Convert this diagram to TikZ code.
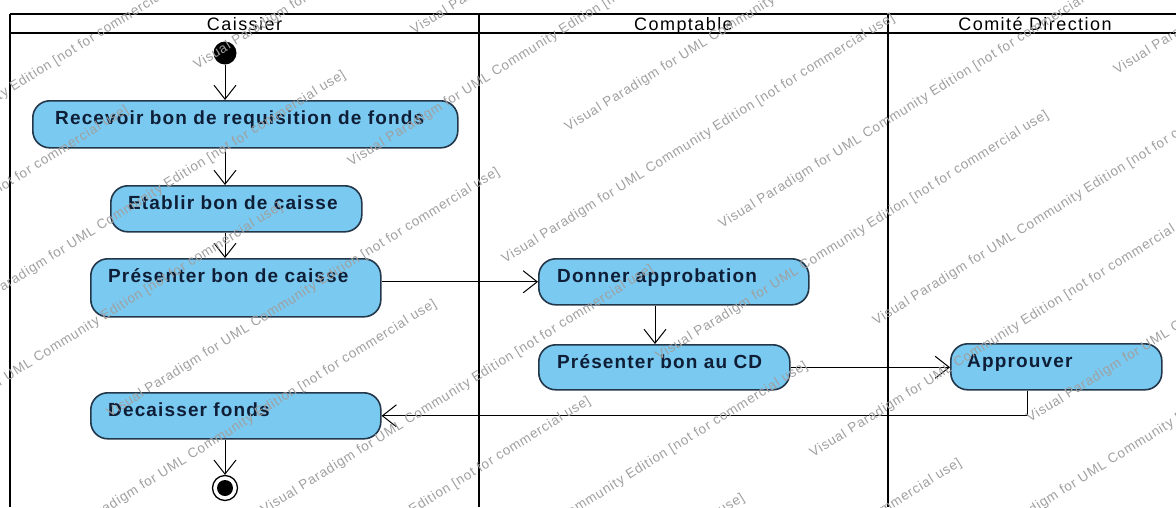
\documentclass[tikz,border=0pt]{standalone}
\usepackage{fontspec}
\setmainfont{Liberation Sans}
\newfontfamily\actfont[LetterSpace=6]{Liberation Sans}
\newfontfamily\lanefont[LetterSpace=8]{Liberation Sans}
\newfontfamily\wmfont[LetterSpace=6]{Liberation Sans}
\usetikzlibrary{arrows.meta,calc}

\definecolor{actfill}{RGB}{122,201,240}
\definecolor{actdraw}{RGB}{35,55,75}
\definecolor{acttext}{RGB}{15,30,55}
\definecolor{wmgray}{RGB}{160,160,160}

\begin{document}
\begin{tikzpicture}[x=1pt,y=-1pt,
  act/.style={draw=actdraw, fill=actfill, line width=1.6pt, rounded corners=17pt,
    inner sep=0pt, anchor=north west},
  actlabel/.style={anchor=base west, inner sep=0pt, text=acttext,
    font=\actfont\bfseries\fontsize{19}{22}\selectfont},
  lanetitle/.style={anchor=base, inner sep=0pt, font=\lanefont\fontsize{18}{21}\selectfont},
  lane/.style={line width=2.8pt},
  flow/.style={line width=1pt, -{Straight Barb[length=14pt,width=22pt,line width=1pt]}},
  wm/.style={anchor=base west, rotate=32, inner sep=0pt, text=wmgray,
    font=\wmfont\fontsize{13.5}{16}\selectfont}
]
\fill[white] (0,0) rectangle (1176,507);
\useasboundingbox (0,0) rectangle (1176,507);

% swimlane frame
\draw[lane] (10,14) -- (1176,14);
\draw[lane] (10,33) -- (1176,33);
\draw[lane] (10,14) -- (10,507);
\draw[lane] (479,14) -- (479,507);
\draw[lane] (888,14) -- (888,507);
\node[lanetitle] (laneA) at (244.5,30.5) {Caissier};
\node[lanetitle] (laneB) at (683.5,30.5) {Comptable};
\node[lanetitle] (laneC) at (1035,30.5) {Comité Direction};

% initial and final states
\node[circle, fill=black, minimum size=23pt, inner sep=0pt] (init) at (225,53) {};
\node[circle, draw, fill=white, line width=1.3pt, minimum size=25pt, inner sep=0pt] (final) at (225,488) {};
\node[circle, fill=black, minimum size=16pt, inner sep=0pt] (finaldot) at (final.center) {};

% actions
\node[act, minimum width=425pt, minimum height=47pt] (recv) at (32,100) {};
\node[act, minimum width=251pt, minimum height=46pt] (etab) at (110,185) {};
\node[act, minimum width=290pt, minimum height=58pt] (pres) at (90,258) {};
\node[act, minimum width=270pt, minimum height=46pt] (donner) at (538,258) {};
\node[act, minimum width=251pt, minimum height=45pt] (cd) at (538,344) {};
\node[act, minimum width=211pt, minimum height=46pt] (appr) at (950,343) {};
\node[act, minimum width=290pt, minimum height=46pt] (dec) at (90,392) {};

\node[actlabel] (recvt) at ($(recv.north west)+(23,24)$) {Recevoir bon de requisition de fonds};
\node[actlabel] (etabt) at ($(etab.north west)+(18,24)$) {Etablir bon de caisse};
\node[actlabel] (prest) at ($(pres.north west)+(18,24)$) {Présenter bon de caisse};
\node[actlabel] (donnert) at ($(donner.north west)+(19,24)$) {Donner approbation};
\node[actlabel] (cdt) at ($(cd.north west)+(19,24)$) {Présenter bon au CD};
\node[actlabel] (apprt) at ($(appr.north west)+(17,24)$) {Approuver};
\node[actlabel] (dect) at ($(dec.north west)+(18,24)$) {Decaisser fonds};

% control flows
\coordinate (dcol) at (655,0);
\coordinate (acol) at (1027,0);
\draw[flow] (init) -- (init |- recv.north);
\draw[flow] (recv.south -| init) -- (etab.north -| init);
\draw[flow] (etab.south -| init) -- (pres.north -| init);
\draw[flow] (pres.east |- donner.west) -- (donner.west);
\draw[flow] (donner.south -| dcol) -- (cd.north -| dcol);
\draw[flow] (cd.east) -- (cd.east -| appr.west);
\draw[flow] (appr.south -| acol) |- (dec.east);
\draw[flow] (dec.south -| init) -- (final);

% edition watermark, repeated along diagonal lines
\begin{scope}
\clip (0,0) rectangle (1176,507);
\foreach \px/\py [count=\k] in {197/70, 351/167, 505/264, 659/361, 813/458, 967/555,
    -261/356, -107/453, 47/550, 201/647, 355/744, 1117/75,
    414/35, 568/132, 722/229, 876/326, 1030/423,
    -352/127, -198/224, -44/321, 110/418, 264/515, 418/612, 572/709}{
  \node[wm] (wm\k) at (\px,\py)
    {Visual Paradigm for UML Community Edition [not for commercial use]};
}
\end{scope}
\end{tikzpicture}
\end{document}
